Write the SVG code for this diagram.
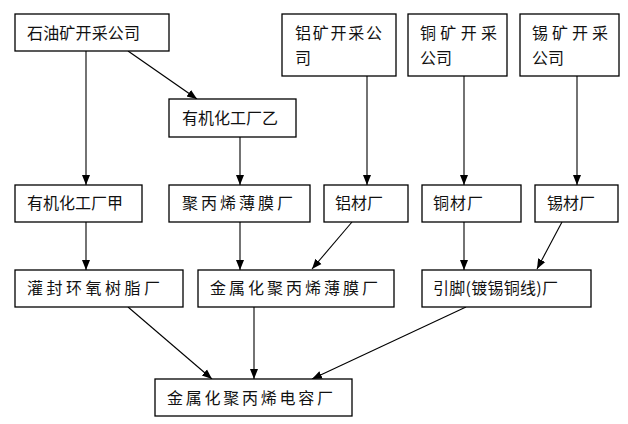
<svg xmlns="http://www.w3.org/2000/svg" width="628" height="424" viewBox="0 0 628 424">
<style>
.box{fill:#fff;stroke:#000;stroke-width:1.3}
.t{font-family:"Noto Sans CJK SC","Noto Sans",sans-serif;font-size:16px;fill:#111}
.c{stroke:#000;stroke-width:1.1;fill:none;marker-end:url(#ah)}
</style>
<defs>
<marker id="ah" viewBox="0 0 10 10" refX="10" refY="5" markerWidth="10" markerHeight="10" markerUnits="userSpaceOnUse" orient="auto">
<path d="M0,1 L10,5 L0,9 Z" fill="#000"/>
</marker>
</defs>
<rect width="628" height="424" fill="#fff"/>
<g id="connectors">
<line class="c" x1="86" y1="51" x2="86" y2="185"/>
<line class="c" x1="128" y1="51" x2="197" y2="99"/>
<line class="c" x1="240" y1="137" x2="240" y2="185"/>
<line class="c" x1="367" y1="76" x2="367" y2="185"/>
<line class="c" x1="464" y1="76" x2="464" y2="185"/>
<line class="c" x1="577" y1="76" x2="577" y2="185"/>
<line class="c" x1="86" y1="222" x2="86" y2="270"/>
<line class="c" x1="240" y1="222" x2="240" y2="270"/>
<line class="c" x1="352" y1="222" x2="312" y2="269"/>
<line class="c" x1="464" y1="222" x2="464" y2="270"/>
<line class="c" x1="562" y1="222" x2="537" y2="269"/>
<line class="c" x1="128" y1="307" x2="212" y2="379"/>
<line class="c" x1="254" y1="307" x2="254" y2="379"/>
<line class="c" x1="466" y1="307" x2="312" y2="379"/>
</g>
<g id="n1"><rect class="box" x="15" y="14" width="154" height="37"/><text class="t" x="27" y="39" textLength="113" lengthAdjust="spacing">石油矿开采公司</text></g>
<g id="n2"><rect class="box" x="282" y="14" width="114" height="62"/><text class="t" x="295" y="39" textLength="87" lengthAdjust="spacing">铝矿开采公</text><text class="t" x="295" y="64">司</text></g>
<g id="n3"><rect class="box" x="408" y="14" width="99" height="62"/><text class="t" x="420" y="39" textLength="77" lengthAdjust="spacing">铜矿开采</text><text class="t" x="420" y="64">公司</text></g>
<g id="n4"><rect class="box" x="520" y="14" width="99" height="62"/><text class="t" x="532" y="39" textLength="76" lengthAdjust="spacing">锡矿开采</text><text class="t" x="532" y="64">公司</text></g>
<g id="n5"><rect class="box" x="169" y="99" width="127" height="38"/><text class="t" x="182" y="124" textLength="96" lengthAdjust="spacing">有机化工厂乙</text></g>
<g id="n6"><rect class="box" x="15" y="185" width="127" height="37"/><text class="t" x="27" y="209" textLength="96" lengthAdjust="spacing">有机化工厂甲</text></g>
<g id="n7"><rect class="box" x="169" y="185" width="141" height="37"/><text class="t" x="182" y="209" textLength="111" lengthAdjust="spacing">聚丙烯薄膜厂</text></g>
<g id="n8"><rect class="box" x="324" y="185" width="84" height="37"/><text class="t" x="335" y="209" textLength="48" lengthAdjust="spacing">铝材厂</text></g>
<g id="n9"><rect class="box" x="422" y="185" width="99" height="37"/><text class="t" x="433" y="209" textLength="50" lengthAdjust="spacing">铜材厂</text></g>
<g id="n10"><rect class="box" x="535" y="185" width="83" height="37"/><text class="t" x="547" y="209" textLength="48" lengthAdjust="spacing">锡材厂</text></g>
<g id="n11"><rect class="box" x="15" y="270" width="168" height="37"/><text class="t" x="27" y="294" textLength="133" lengthAdjust="spacing">灌封环氧树脂厂</text></g>
<g id="n12"><rect class="box" x="198" y="270" width="196" height="37"/><text class="t" x="210" y="294" textLength="168" lengthAdjust="spacing">金属化聚丙烯薄膜厂</text></g>
<g id="n13"><rect class="box" x="422" y="270" width="169" height="37"/><text class="t" x="433" y="294" textLength="125" lengthAdjust="spacing">引脚(镀锡铜线)厂</text></g>
<g id="n14"><rect class="box" x="155" y="379" width="197" height="37"/><text class="t" x="167" y="404" textLength="166" lengthAdjust="spacing">金属化聚丙烯电容厂</text></g>
</svg>
